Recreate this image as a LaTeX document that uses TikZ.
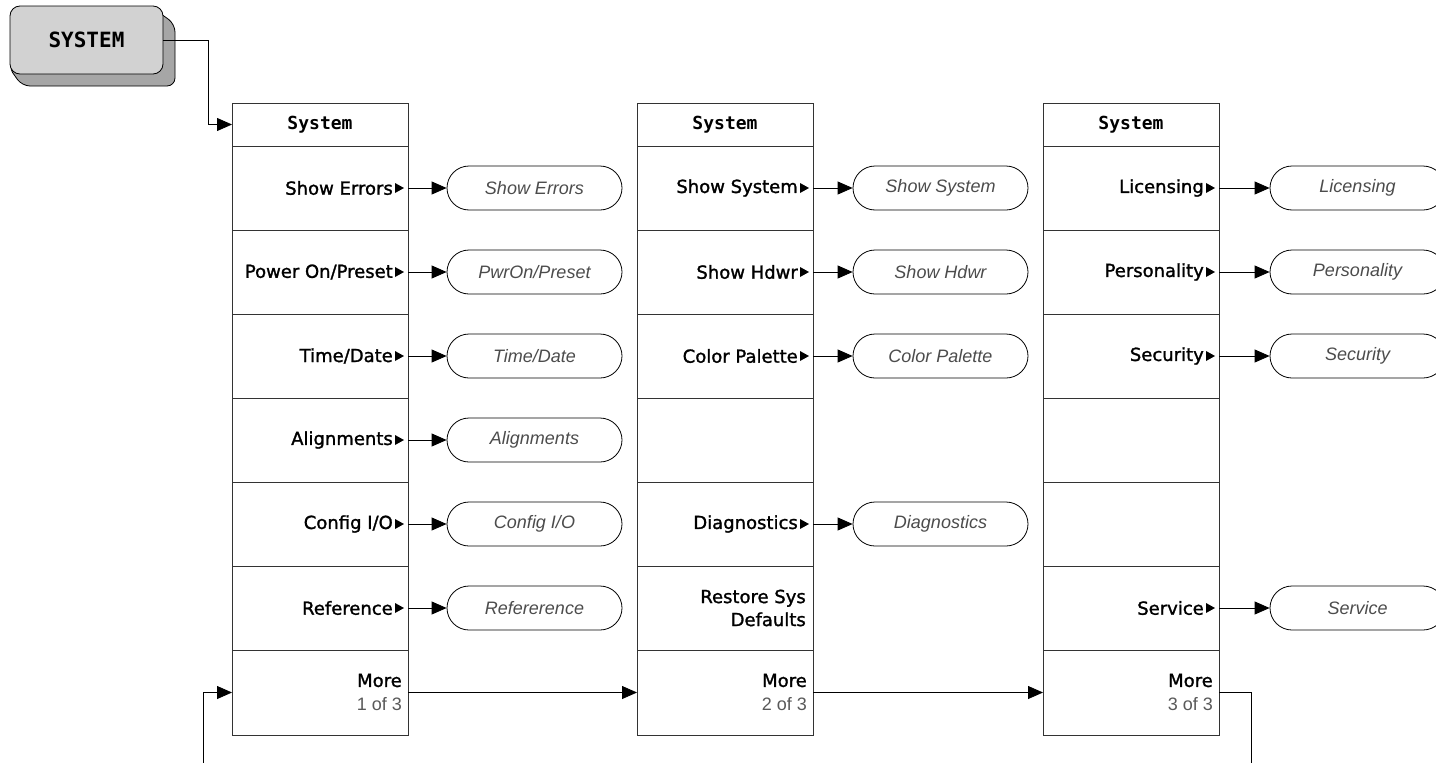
\documentclass[tikz,border=0pt]{standalone}
\usepackage{fontspec}
\setmainfont{DejaVu Sans}
\newfontfamily\labfont[FakeBold=1.4]{DejaVu Sans}
\newfontfamily\monofont{DejaVu Sans Mono}
\newfontfamily\ovfont{Liberation Sans}
\usetikzlibrary{arrows.meta}
\definecolor{btnfront}{HTML}{D2D2D2}
\definecolor{btnshadow}{HTML}{A6A6A6}
\definecolor{lineclr}{HTML}{333333}
\tikzset{
  cell/.style={draw=lineclr, line width=0.9pt, minimum width=176pt, inner sep=0pt, outer sep=0pt},
  hdr/.style={cell, minimum height=43pt, font=\monofont\bfseries\fontsize{18}{20}\selectfont},
  row/.style={cell, minimum height=84pt},
  lab/.style={anchor=east, inner sep=0pt, font=\labfont\fontsize{18}{23}\selectfont, align=right},
  sub/.style={anchor=east, inner sep=0pt, font=\ovfont\fontsize{18}{21}\selectfont, text=black!65},
  oval/.style={draw=black, line width=0.8pt, rounded corners=22pt, minimum width=175pt, minimum height=44pt, inner sep=0pt, font=\ovfont\itshape\fontsize{18}{21}\selectfont, text=black!70},
  conn/.style={draw=black, line width=0.8pt},
  arr/.style={conn, -{Triangle[length=15pt,width=13pt]}},
  tri/.style={fill=black}
}
\newcommand\keylab[2]{%
  \node[lab] (#1t) at ([xshift=-15pt]#1.east) {#2};
  \fill[tri] ([xshift=-13pt,yshift=-5pt]#1.east) -- ([xshift=-13pt,yshift=5pt]#1.east) -- ([xshift=-4pt]#1.east) -- cycle;
}
\begin{document}
\begin{tikzpicture}[x=1pt,y=-1pt]
\useasboundingbox (0,0) rectangle (1436,763);
\clip (0,0) rectangle (1436,763);
\fill[white] (0,0) rectangle (1436,763);
% SYSTEM hard key
\filldraw[fill=btnshadow, draw=black, line width=0.8pt, rounded corners=8pt]
  (150,6) -- (175,24) -- (175,86) -- (22,86) -- (8,66) -- cycle;
\node[draw=black, line width=0.8pt, fill=btnfront, rounded corners=10pt, minimum width=153pt, minimum height=68pt, inner sep=0pt,
  font=\monofont\fontsize{21}{23}\selectfont] (key) at (86.5,40) {\textbf{SYSTEM}};
% ---------- column 1
\node[hdr] (c1h) at (320,124.5) {System};
\node[row] (c1r1) at (320,188) {};
\node[row] (c1r2) at (320,272) {};
\node[row] (c1r3) at (320,356) {};
\node[row] (c1r4) at (320,440) {};
\node[row] (c1r5) at (320,524) {};
\node[row] (c1r6) at (320,608) {};
\node[cell, minimum height=85pt] (c1m) at (320,692.5) {};
% ---------- column 2
\node[hdr] (c2h) at (725,124.5) {System};
\node[row] (c2r1) at (725,188) {};
\node[row] (c2r2) at (725,272) {};
\node[row] (c2r3) at (725,356) {};
\node[row] (c2r4) at (725,440) {};
\node[row] (c2r5) at (725,524) {};
\node[row] (c2r6) at (725,608) {};
\node[cell, minimum height=85pt] (c2m) at (725,692.5) {};
% ---------- column 3
\node[hdr] (c3h) at (1131,124.5) {System};
\node[row] (c3r1) at (1131,188) {};
\node[row] (c3r2) at (1131,272) {};
\node[row] (c3r3) at (1131,356) {};
\node[row] (c3r4) at (1131,440) {};
\node[row] (c3r5) at (1131,524) {};
\node[row] (c3r6) at (1131,608) {};
\node[cell, minimum height=85pt] (c3m) at (1131,692.5) {};
% ---------- labels with triangles
\keylab{c1r1}{Show Errors}
\keylab{c1r2}{Power On/Preset}
\keylab{c1r3}{Time/Date}
\keylab{c1r4}{Alignments}
\keylab{c1r5}{Config I/O}
\keylab{c1r6}{Reference}
\keylab{c2r1}{Show System}
\keylab{c2r2}{Show Hdwr}
\keylab{c2r3}{Color Palette}
\keylab{c2r5}{Diagnostics}
\keylab{c3r1}{Licensing}
\keylab{c3r2}{Personality}
\keylab{c3r3}{Security}
\keylab{c3r6}{Service}
\node[lab] (c2r6t) at ([xshift=-7pt]c2r6.east) {Restore Sys\\Defaults};
% More keys
\node[lab] (c1mt) at ([xshift=-6pt,yshift=12pt]c1m.east) {More};
\node[sub] (c1ms) at ([xshift=-6pt,yshift=-12pt]c1m.east) {1 of 3};
\node[lab] (c2mt) at ([xshift=-6pt,yshift=12pt]c2m.east) {More};
\node[sub] (c2ms) at ([xshift=-6pt,yshift=-12pt]c2m.east) {2 of 3};
\node[lab] (c3mt) at ([xshift=-6pt,yshift=12pt]c3m.east) {More};
\node[sub] (c3ms) at ([xshift=-6pt,yshift=-12pt]c3m.east) {3 of 3};
% ---------- ovals
\node[oval] (o11) at (534.5,188) {Show Errors};
\node[oval] (o12) at (534.5,272) {PwrOn/Preset};
\node[oval] (o13) at (534.5,356) {Time/Date};
\node[oval] (o14) at (534.5,440) {Alignments};
\node[oval] (o15) at (534.5,524) {Config I/O};
\node[oval] (o16) at (534.5,608) {Refererence};
\node[oval] (o21) at (940.5,188) {Show System};
\node[oval] (o22) at (940.5,272) {Show Hdwr};
\node[oval] (o23) at (940.5,356) {Color Palette};
\node[oval] (o25) at (940.5,524) {Diagnostics};
\node[oval] (o31) at (1357.5,188) {Licensing};
\node[oval] (o32) at (1357.5,272) {Personality};
\node[oval] (o33) at (1357.5,356) {Security};
\node[oval] (o36) at (1357.5,608) {Service};
% ---------- connectors
\foreach \a/\b in {c1r1/o11, c1r2/o12, c1r3/o13, c1r4/o14, c1r5/o15, c1r6/o16,
  c2r1/o21, c2r2/o22, c2r3/o23, c2r5/o25, c3r1/o31, c3r2/o32, c3r3/o33, c3r6/o36}{
  \draw[arr] (\a.east) -- (\b.west);
}
\draw[arr] (key.east) -| (208,124.5) -- (c1h.west);
\draw[arr] (c1m.east) -- (c2m.west);
\draw[arr] (c2m.east) -- (c3m.west);
\coordinate (loopR) at (1251,765);
\coordinate (loopL) at (203,765);
\draw[conn] (c3m.east) -| (loopR);
\draw[arr] (loopL) |- (c1m.west);
\end{tikzpicture}
\end{document}
